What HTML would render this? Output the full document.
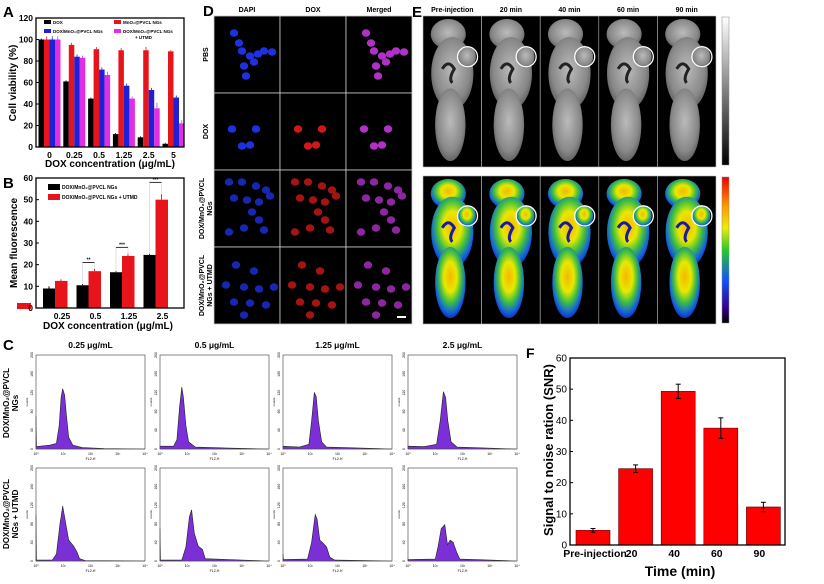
<!DOCTYPE html>
<html><head><meta charset="utf-8">
<style>
html,body{margin:0;padding:0;background:#fff;}
svg{display:block;font-family:"Liberation Sans",Arial,sans-serif;font-weight:bold;}
</style></head>
<body>
<svg id="fig" width="824" height="584" viewBox="0 0 824 584" xmlns="http://www.w3.org/2000/svg">
<defs>
<linearGradient id="grayBar" x1="0" y1="0" x2="0" y2="1"><stop offset="0" stop-color="#fff"/><stop offset="1" stop-color="#000"/></linearGradient>
<linearGradient id="rainBar" x1="0" y1="0" x2="0" y2="1"><stop offset="0" stop-color="#e00"/><stop offset="0.2" stop-color="#f90"/><stop offset="0.35" stop-color="#ee0"/><stop offset="0.5" stop-color="#2c2"/><stop offset="0.7" stop-color="#15f"/><stop offset="0.9" stop-color="#308"/><stop offset="1" stop-color="#000"/></linearGradient>
<radialGradient id="grayMouse" cx="0.5" cy="0.45" r="0.6"><stop offset="0" stop-color="#bbb"/><stop offset="0.7" stop-color="#888"/><stop offset="1" stop-color="#555"/></radialGradient>
<radialGradient id="colMouse" cx="0.5" cy="0.42" r="0.6"><stop offset="0" stop-color="#f5b800"/><stop offset="0.35" stop-color="#e8e800"/><stop offset="0.6" stop-color="#40c040"/><stop offset="0.85" stop-color="#1060e0"/><stop offset="1" stop-color="#2020a0"/></radialGradient>
</defs>
<g id="panelA"></g>
<g id="panelB"></g>
<g id="panelC"></g>
<g id="panelD"></g>
<g id="panelE"></g>
<g id="panelF"></g>
</svg>
<script>
// ---------- Panel A data ----------
const aCategories = ["0","0.25","0.5","1.25","2.5","5"];
const aDOX = [100,61,45,12,9,3];
const aMnO2 = [100,95,91,90,90,89];
const aDoxMnO2 = [100,84,72,57,53,46];
const aUTMD = [100,83,67,45,36,22];
const aErr = [[1,1,1,1,1,1],[3,2,2,2,3,1],[3,2,2,2,2,2],[3,2,3,2,5,3]];
const aTicks = [0,20,40,60,80,100,120];
// ---------- Panel B data ----------
const bCategories = ["0.25","0.5","1.25","2.5"];
const bNGs = [9,10.5,16.5,24.5];
const bUTMD = [12.5,17,24,50];
const bErrN = [1,0.5,0.5,0.5];
const bErrU = [0.7,1,1,2.5];
const bTicks = [0,10,20,30,40,50,60];
// ---------- Panel C data (log10 FL2-H, counts) ----------
const cTitles = ["0.25 μg/mL","0.5 μg/mL","1.25 μg/mL","2.5 μg/mL"];
const cTop = [
 [[0,70],[0.02,5],[0.5,8],[0.75,12],[0.85,50],[0.92,110],[0.98,128],[1.05,115],[1.12,70],[1.2,25],[1.35,8],[1.7,3],[2.5,1],[4,0]],
 [[0,6],[0.5,6],[0.62,20],[0.72,90],[0.8,132],[0.86,110],[0.95,50],[1.05,15],[1.3,4],[2.5,2],[4,0]],
 [[0,6],[0.6,4],[0.95,10],[1.05,60],[1.15,120],[1.22,112],[1.3,60],[1.42,15],[1.6,4],[4,0]],
 [[0,6],[0.6,5],[1.05,10],[1.18,60],[1.3,122],[1.38,110],[1.46,60],[1.58,15],[1.8,4],[4,0]]
];
const cBot = [
 [[0,100],[0.02,2],[0.6,2],[0.75,15],[0.88,80],[0.98,118],[1.08,85],[1.2,45],[1.38,32],[1.5,20],[1.6,5],[1.8,1],[4,0]],
 [[0,70],[0.02,2],[0.8,2],[0.95,30],[1.08,95],[1.16,110],[1.26,60],[1.4,32],[1.56,25],[1.66,5],[4,0]],
 [[0,15],[0.02,3],[0.9,4],[1.05,40],[1.18,100],[1.25,90],[1.35,45],[1.48,38],[1.6,30],[1.72,8],[1.9,2],[4,0]],
 [[0,4],[0.02,3],[1.0,4],[1.1,30],[1.22,70],[1.35,78],[1.45,35],[1.55,45],[1.66,40],[1.78,20],[1.9,4],[4,0]]
];
// ---------- Panel F data ----------
const fCategories = ["Pre-injection","20","40","60","90"];
const fValues = [4.7,24.5,49.3,37.5,12.2];
const fErr = [0.6,1.2,2.3,3.3,1.5];
const fTicks = [0,10,20,30,40,50,60];

const NS="http://www.w3.org/2000/svg";
function el(tag,attrs,parent,text){const e=document.createElementNS(NS,tag);for(const k in attrs)e.setAttribute(k,attrs[k]);if(text!==undefined)e.textContent=text;parent.appendChild(e);return e;}

// ===== Panel A =====
(function(){
 const g=document.getElementById('panelA');
 const L=36,R=184,T=18,B=147,maxV=120;
 const y=v=>B-v/maxV*(B-T);
 const x=i=>49.5+i*24.8;
 let t=el('text',{x:3,y:17,'font-size':15},g,'A');
 const series=[aDOX,aMnO2,aDoxMnO2,aUTMD],cols=["#000","#e8141b","#1f1fd8","#e22ee2"],names=["dox","mno2","dox-mno2","utmd"];
 series.forEach((s,si)=>s.forEach((v,i)=>{
   const bx=x(i)-11+si*5.5;
   const r=el('rect',{x:bx,y:y(v),width:5.5,height:B-y(v),fill:cols[si]},g);
   
   el('line',{x1:bx+2.75,x2:bx+2.75,y1:y(v+aErr[si][i]),y2:y(v),stroke:cols[si],'stroke-width':0.8},g);
 }));
 const ax=el('rect',{x:L,y:T,width:R-L,height:B-T,fill:'none',stroke:'#000','stroke-width':1.3},g);
 
 aTicks.forEach(v=>{el('line',{x1:L,x2:L+3,y1:y(v),y2:y(v),stroke:'#000'},g);
   const tt=el('text',{x:L-3,y:y(v)+3,'font-size':8.5,'text-anchor':'end'},g,v);});
 aCategories.forEach((c,i)=>{const tt=el('text',{x:x(i),y:B+11,'font-size':8.5,'text-anchor':'middle'},g,c);});
 t=el('text',{x:110,y:167,'font-size':10,'text-anchor':'middle'},g,'DOX concentration (μg/mL)');
 t=el('text',{x:0,y:0,'font-size':10,'text-anchor':'middle',transform:'translate(16,83) rotate(-90)'},g,'Cell viability (%)');
 const leg=[[44,20,cols[0],'DOX'],[114,20,cols[1],'MnO₂@PVCL NGs'],[44,29,cols[2],'DOX/MnO₂@PVCL NGs'],[114,29,cols[3],'DOX/MnO₂@PVCL NGs']];
 leg.forEach(l=>{const r=el('rect',{x:l[0],y:l[1],width:7,height:4,fill:l[2]},g);
   const tt=el('text',{x:l[0]+9,y:l[1]+4,'font-size':4.5},g,l[3]);});
 el('text',{x:135,y:39,'font-size':4.5},g,'+ UTMD');
})();

// ===== Panel B =====
(function(){
 const g=document.getElementById('panelB');
 const L=36,R=184,T=178,B=308,maxV=60;
 const y=v=>B-v/maxV*(B-T);
 const x=i=>55+i*33.5;
 let t=el('text',{x:3,y:188,'font-size':15},g,'B');
 bNGs.forEach((v,i)=>{const r=el('rect',{x:x(i)-12,y:y(v),width:12,height:B-y(v),fill:'#000'},g);
   el('line',{x1:x(i)-6,x2:x(i)-6,y1:y(v+bErrN[i]),y2:y(v),stroke:'#000'},g);});
 bUTMD.forEach((v,i)=>{const r=el('rect',{x:x(i),y:y(v),width:12.5,height:B-y(v),fill:'#e8141b'},g);
   el('line',{x1:x(i)+6,x2:x(i)+6,y1:y(v+bErrU[i]),y2:y(v),stroke:'#e8141b'},g);});
 [[1,'**'],[2,'***'],[3,'***']].forEach(s=>{const i=s[0];const top=y(bUTMD[i]+(i==3?8:4));
   el('line',{x1:x(i)-6,x2:x(i)+6,y1:top,y2:top,stroke:'#000','stroke-width':0.8},g);
   el('line',{x1:x(i)-6,x2:x(i)-6,y1:top,y2:y(bNGs[i]),stroke:'#888','stroke-width':0.5,'stroke-dasharray':'1,1'},g);
   el('line',{x1:x(i)+6,x2:x(i)+6,y1:top,y2:y(bUTMD[i]),stroke:'#888','stroke-width':0.5,'stroke-dasharray':'1,1'},g);
   el('text',{x:x(i),y:top-1,'font-size':5,'text-anchor':'middle'},g,s[1]);});
 const r0=el('rect',{x:17,y:303,width:14,height:6,fill:'#e8141b'},g);
 const ax=el('rect',{x:L,y:T,width:R-L,height:B-T,fill:'none',stroke:'#000','stroke-width':1.3},g);
 
 bTicks.forEach(v=>{el('line',{x1:L,x2:L+3,y1:y(v),y2:y(v),stroke:'#000'},g);
   const tt=el('text',{x:L-3,y:y(v)+3,'font-size':8.5,'text-anchor':'end'},g,v);});
 bCategories.forEach((c,i)=>{const tt=el('text',{x:x(i)+7,y:B+11,'font-size':8.5,'text-anchor':'middle'},g,c);});
 t=el('text',{x:108,y:329,'font-size':10,'text-anchor':'middle'},g,'DOX concentration (μg/mL)');
 t=el('text',{x:0,y:0,'font-size':10,'text-anchor':'middle',transform:'translate(17,243) rotate(-90)'},g,'Mean fluorescence');
 [[186,'#000','DOX/MnO₂@PVCL NGs'],[196,'#e8141b','DOX/MnO₂@PVCL NGs + UTMD']].forEach(l=>{
   const r=el('rect',{x:48,y:l[0]-2,width:12,height:6,fill:l[1]},g);
   const tt=el('text',{x:62,y:l[0]+3,'font-size':5},g,l[2]);});
})();

// ===== Panel C =====
(function(){
 const g=document.getElementById('panelC');
 let t=el('text',{x:3,y:350,'font-size':15},g,'C');
 const lefts=[36,160,283,408],W=109;
 const rows=[[355,449,cTop],[468,561,cBot]];
 cTitles.forEach((c,i)=>{const tt=el('text',{x:lefts[i]+W/2,y:348,'font-size':8.5,'text-anchor':'middle'},g,c);});
 rows.forEach((row,ri)=>{
  const T=row[0],B=row[1],data=row[2];
  lefts.forEach((L,i)=>{
   const x=v=>L+v/4*W, y=v=>B-v/200*(B-T);
   let d='M'+x(0)+','+B;
   data[i].forEach(p=>{d+=' L'+x(p[0]).toFixed(1)+','+y(p[1]).toFixed(1);});
   d+=' L'+x(4)+','+B+' Z';
   const p=el('path',{d:d,fill:'#7b2fd6',stroke:'#222','stroke-width':0.6},g);
   
   const fr=el('rect',{x:L,y:T,width:W,height:B-T,fill:'none',stroke:'#555','stroke-width':0.7},g);
   
   [0,1,2,3,4].forEach(k=>{el('text',{x:x(k),y:B+6,'font-size':3.5,'text-anchor':'middle','font-weight':'normal'},g,'10'+['⁰','¹','²','³','⁴'][k]);});
   [0,40,80,120,160,200].forEach(k=>{el('text',{x:0,y:0,'font-size':3.5,'text-anchor':'middle','font-weight':'normal',transform:'translate('+(L-3)+','+y(k)+') rotate(-90)'},g,k);});
   el('text',{x:L+W/2,y:B+11,'font-size':3.5,'text-anchor':'middle','font-weight':'normal'},g,'FL2-H');
   el('text',{x:0,y:0,'font-size':3,'text-anchor':'middle','font-weight':'normal',transform:'translate('+(L-8)+','+(T+B)/2+') rotate(-90)'},g,'counts');
  });
 });
 t=el('text',{x:0,y:0,'font-size':8,'text-anchor':'middle',transform:'translate(9,403) rotate(-90)'},g,'DOX/MnO₂@PVCL');
 el('text',{x:0,y:0,'font-size':8,'text-anchor':'middle',transform:'translate(18,403) rotate(-90)'},g,'NGs');
 t=el('text',{x:0,y:0,'font-size':8,'text-anchor':'middle',transform:'translate(9,514) rotate(-90)'},g,'DOX/MnO₂@PVCL');
 el('text',{x:0,y:0,'font-size':8,'text-anchor':'middle',transform:'translate(18,514) rotate(-90)'},g,'NGs + UTMD');
})();

// ===== Panel D =====
const dCols=["DAPI","DOX","Merged"];
const dRows=["PBS","DOX","DOX/MnO₂@PVCL NGs","DOX/MnO₂@PVCL NGs + UTMD"];
const dDots=[
 [[20,17],[25,27],[28,35],[36,40],[44,38],[50,35],[58,36],[30,50],[32,60],[40,46]],
 [[18,36],[42,36],[28,53],[36,52]],
 [[15,12],[28,12],[42,16],[52,20],[56,26],[20,28],[33,30],[45,32],[38,42],[45,50],[30,58],[15,62],[50,60]],
 [[22,18],[40,24],[12,38],[30,40],[45,42],[20,55],[36,56],[52,58],[30,68],[60,40]]
];
(function(){
 const g=document.getElementById('panelD');
 let t=el('text',{x:203,y:16,'font-size':15},g,'D');
 const L=214,T=16,W=66,H=77;
 dCols.forEach((c,ci)=>{const tt=el('text',{x:L+ci*W+W/2,y:12,'font-size':7,'text-anchor':'middle'},g,c);});
 dRows.forEach((r,ri)=>{
  dCols.forEach((c,ci)=>{
   const tile=el('rect',{x:L+ci*W,y:T+ri*H,width:W,height:H,fill:'#000',stroke:'#ccc','stroke-width':0.8},g);
   
   if(ri===0&&ci===1)return;
   const col=ci===0?'#1e30e0':ci===1?'#d01818':'#b030c8';
   dDots[ri].forEach(p=>el('ellipse',{cx:L+ci*W+p[0],cy:T+ri*H+p[1],rx:4.2,ry:3.8,fill:col,opacity:ri>=2?0.8:1},g));
  });
  const lbl=r.indexOf('/')>=0?[r.split(' ')[0], r.split(' ').slice(1).join(' ')]:[r];
  lbl.forEach((s,k)=>{const tt=el('text',{x:0,y:0,'font-size':7,'text-anchor':'middle',transform:'translate('+(208+k*8-(lbl.length-1)*4)+','+(T+ri*H+H/2)+') rotate(-90)'},g,s);
   });
 });
 el('rect',{x:397,y:316,width:9,height:2,fill:'#fff'},g);
})();

// ===== Panel E =====
const eCols=["Pre-injection","20 min","40 min","60 min","90 min"];
(function(){
 const g=document.getElementById('panelE');
 let t=el('text',{x:412,y:17,'font-size':15},g,'E');
 const L=423,W=58.6;
 const rowsY=[[16,167,'url(#grayMouse)','gray'],[176,324,'url(#colMouse)','color']];
 eCols.forEach((c,i)=>{const tt=el('text',{x:L+i*W+W/2,y:12,'font-size':7,'text-anchor':'middle'},g,c);});
 rowsY.forEach(r=>{
  const T=r[0],H=r[1]-r[0];
  eCols.forEach((c,i)=>{
   const x0=L+i*W;
   const bg=el('rect',{x:x0,y:T,width:W,height:H,fill:'#000',stroke:'#bbb','stroke-width':0.6},g);
   
   const cx=x0+W*0.5;
   el('ellipse',{cx:cx-4,cy:T+H*0.12,rx:W*0.3,ry:H*0.1,fill:r[2]},g);
   el('ellipse',{cx:cx,cy:T+H*0.38,rx:W*0.36,ry:H*0.24,fill:r[2]},g);
   el('ellipse',{cx:cx+W*0.25,cy:T+H*0.27,rx:9,ry:11,fill:r[2]},g);
   el('ellipse',{cx:cx-2,cy:T+H*0.72,rx:W*0.26,ry:H*0.24,fill:r[2]},g);
   el('path',{d:'M'+(cx-10)+','+(T+H*0.35)+' q6,-10 12,0 q-6,10 -2,14',fill:'none',stroke:r[3]==='gray'?'#222':'#1a1aa0','stroke-width':3},g);
   const circ=el('circle',{cx:x0+W*0.76,cy:T+H*0.27,r:10,fill:'none',stroke:'#fff','stroke-width':1.3},g);
   
  });
 });
 let cb=el('rect',{x:722,y:17,width:7,height:148,fill:'url(#grayBar)',stroke:'#888','stroke-width':0.5},g);
 cb=el('rect',{x:722,y:177,width:7,height:146,fill:'url(#rainBar)',stroke:'#888','stroke-width':0.5},g);
})();

// ===== Panel F =====
(function(){
 const g=document.getElementById('panelF');
 const L=570,R=785,T=358,B=545,maxV=60;
 const y=v=>B-v/maxV*(B-T);
 const x=i=>593+i*42.6;
 let t=el('text',{x:526,y:358,'font-size':14},g,'F');
 fValues.forEach((v,i)=>{
  const r=el('rect',{x:x(i)-17,y:y(v),width:34,height:B-y(v),fill:'#f00',stroke:'#600','stroke-width':0.6},g);
  
  el('line',{x1:x(i),x2:x(i),y1:y(v+fErr[i]),y2:y(v-fErr[i]),stroke:'#000','stroke-width':1},g);
  el('line',{x1:x(i)-2.5,x2:x(i)+2.5,y1:y(v+fErr[i]),y2:y(v+fErr[i]),stroke:'#000','stroke-width':1},g);
  el('line',{x1:x(i)-2.5,x2:x(i)+2.5,y1:y(v-fErr[i]),y2:y(v-fErr[i]),stroke:'#000','stroke-width':1},g);
 });
 const ax=el('rect',{x:L,y:T,width:R-L,height:B-T,fill:'none',stroke:'#000','stroke-width':1.3},g);
 
 fTicks.forEach(v=>{el('line',{x1:L,x2:L+3,y1:y(v),y2:y(v),stroke:'#000'},g);
   const tt=el('text',{x:L-3,y:y(v)+3.5,'font-size':10,'text-anchor':'end','font-weight':'normal'},g,v);});
 fCategories.forEach((c,i)=>{const tt=el('text',{x:i===0?x(i)+2:x(i)-4,y:B+12,'font-size':10.5,'text-anchor':'middle'},g,c);});
 t=el('text',{x:680,y:576,'font-size':14,'text-anchor':'middle'},g,'Time (min)');
 t=el('text',{x:0,y:0,'font-size':13,'text-anchor':'middle',transform:'translate(553,450) rotate(-90)'},g,'Signal to noise ration (SNR)');
})();
</script>
</body></html>
